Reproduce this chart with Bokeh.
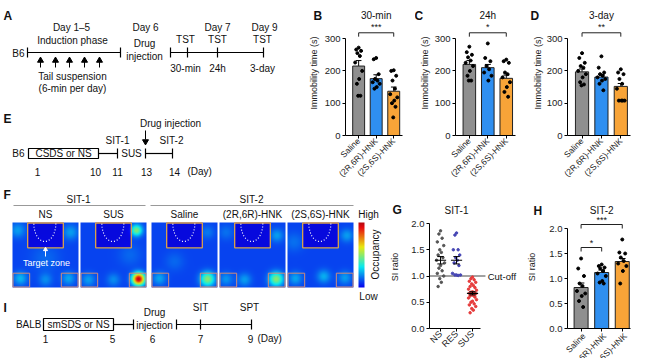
import math
import numpy as np
from bokeh.plotting import figure
from bokeh.layouts import row, column
from bokeh.models import Range1d, FixedTicker, ColumnDataSource, NumeralTickFormatter
from bokeh.embed import file_html
from bokeh.resources import INLINE
from bokeh.core.properties import value

FONT = "Liberation Sans"

# ---------------- data ----------------
groups = ["Saline", "(2R,6R)-HNK", "(2S,6S)-HNK"]
group_colors = ["#8f8f8f", "#2f8ff0", "#f8a438"]

# B: TST 30-min (immobility, s)
b_mean = [215, 176, 137]
b_sem = [17, 12, 13]
b_saline = [272, 266, 262, 255, 246, 226, 200, 175, 160, 123, 123]
b_rr = [240, 236, 190, 175, 170, 165, 160, 150, 145]
b_ss = [202, 200, 185, 170, 145, 128, 118, 108, 100, 89, 56]
# C: TST 24h
c_mean = [220, 210, 177]
c_sem = [12, 10, 10]
c_saline = [275, 258, 250, 242, 232, 225, 215, 200, 185, 170, 170]
c_rr = [285, 240, 230, 215, 205, 195, 185, 170]
c_ss = [235, 230, 225, 195, 190, 180, 165, 150, 135, 120]
# D: TST 3-day
d_mean = [197, 181, 152]
d_sem = [9, 8, 9]
d_saline = [255, 240, 225, 215, 210, 200, 190, 180, 165, 158, 155]
d_rr = [245, 210, 195, 190, 185, 180, 175, 170, 160, 140]
d_ss = [205, 195, 190, 175, 160, 145, 108, 108, 108, 108]
immo_ticks = [0, 100, 200, 300]

# G: SIT-1 SI ratio
g_groups = ["NS", "RES", "SUS"]
g_colors = ["#555555", "#4646b4", "#e63c3c"]
g_ns = [1.86, 1.8, 1.72, 1.65, 1.58, 1.5, 1.45, 1.4, 1.35, 1.3, 1.25, 1.2, 1.15, 1.1, 1.05, 1.0, 0.95, 0.88, 0.8]
g_res = [1.82, 1.78, 1.5, 1.5, 1.4, 1.35, 1.3, 1.25, 1.2, 1.05, 1.02, 1.02, 1.02, 1.01]
g_sus = [0.98, 0.95, 0.93, 0.9, 0.88, 0.85, 0.82, 0.8, 0.78, 0.75, 0.73, 0.7, 0.69, 0.68, 0.67,
         0.66, 0.65, 0.63, 0.62, 0.6, 0.58, 0.55, 0.52, 0.5, 0.47, 0.45, 0.42, 0.38, 0.35, 0.3]
g_mean = [1.3, 1.3, 0.67]
g_sem = [0.07, 0.07, 0.03]
cutoff = 1.0
si_ticks = [0.0, 0.5, 1.0, 1.5, 2.0]

# H: SIT-2 SI ratio
h_mean = [0.82, 1.12, 1.34]
h_sem = [0.09, 0.05, 0.06]
h_saline = [1.4, 1.2, 1.05, 0.9, 0.85, 0.75, 0.7, 0.65, 0.55, 0.43]
h_rr = [1.28, 1.25, 1.22, 1.2, 1.15, 1.1, 1.05, 0.95, 0.92, 0.9]
h_ss = [1.78, 1.52, 1.5, 1.42, 1.35, 1.3, 1.25, 1.15, 0.9]

# F: occupancy hot spots per arena (u, v, amplitude, radius), u/v relative to arena
arena_titles = ["NS", "SUS", "Saline", "(2R,6R)-HNK", "(2S,6S)-HNK"]
ns_spots = [(0.08, 0.12, 0.10, 0.08), (0.88, 0.15, 0.10, 0.08), (0.5, 0.55, 0.04, 0.15),
            (0.12, 0.86, 0.13, 0.07), (0.5, 0.88, 0.08, 0.07), (0.85, 0.86, 0.11, 0.07)]
sus_spots = [(0.85, 0.12, 0.32, 0.06), (0.88, 0.87, 0.74, 0.065), (0.12, 0.88, 0.10, 0.07),
             (0.5, 0.88, 0.08, 0.07), (0.75, 0.5, 0.04, 0.12)]
saline_spots = [(0.85, 0.87, 0.33, 0.075), (0.12, 0.86, 0.11, 0.07), (0.35, 0.6, 0.04, 0.1),
                (0.85, 0.15, 0.06, 0.07)]
rr_spots = [(0.86, 0.87, 0.33, 0.075), (0.1, 0.87, 0.09, 0.07), (0.38, 0.88, 0.10, 0.07),
            (0.87, 0.2, 0.10, 0.07), (0.1, 0.15, 0.05, 0.08)]
ss_spots = [(0.12, 0.86, 0.11, 0.07), (0.55, 0.83, 0.12, 0.07), (0.87, 0.85, 0.10, 0.07),
            (0.9, 0.2, 0.10, 0.07), (0.1, 0.3, 0.05, 0.1)]
all_spots = [ns_spots, sus_spots, saline_spots, rr_spots, ss_spots]

dot_offsets = [0.0, -0.14, 0.14, -0.07, 0.07, -0.2, 0.2, 0.03, -0.1, 0.1, -0.03]

# ---------------- layout constants (page pixels) ----------------
TOP_H, TOP_T, TOP_B = 188, 10, 53      # row 1: frames span y 10..135
BOT_H, BOT_T, BOT_B = 170, 17, 30      # row 2: frames span y 205..328

# ---------------- helpers ----------------
def style_axis(ax, size="9.5px"):
    ax.axis_line_color = "black"
    ax.axis_line_width = 1
    ax.major_tick_line_color = "black"
    ax.major_tick_in = 0
    ax.major_tick_out = 3
    ax.minor_tick_line_color = None
    ax.major_label_text_font = FONT
    ax.major_label_text_font_size = size
    ax.major_label_text_color = "#222222"
    ax.major_label_standoff = 2
    ax.axis_label_text_font = FONT
    ax.axis_label_text_font_size = "9px"
    ax.axis_label_text_font_style = "normal"
    ax.axis_label_text_color = "#222222"


def gtext(p, x, y, s, align="center", size="10px", bold=False, color="#111111", angle=0.0,
          level="overlay", dx=0):
    p.text(x=[x], y=[y], text=[s], text_align=align, text_baseline="middle",
           text_font=value(FONT), text_font_size=value(size), x_offset=dx,
           text_font_style="bold" if bold else "normal", text_color=color, angle=angle,
           level=level)


def panel_fig(width, height, borders, xr, yr):
    bl, br, bt, bb = borders
    p = figure(width=width, height=height, x_range=Range1d(*xr), y_range=Range1d(*yr),
               min_border_left=bl, min_border_right=br, min_border_top=bt, min_border_bottom=bb,
               title=None, toolbar_location=None, output_backend="svg")
    p.outline_line_color = None
    p.grid.visible = False
    p.background_fill_color = "white"
    p.border_fill_color = "white"
    return p


def finish_axes(p, ybounds, yticks, ylabel, standoff, cats, fmt=None, xbounds=None,
                xlabels=True, xsize="8.5px"):
    style_axis(p.xaxis[0], size=xsize)
    style_axis(p.yaxis[0])
    p.xaxis.ticker = FixedTicker(ticks=list(range(len(cats))))
    if xlabels:
        p.xaxis.major_label_overrides = {i: c for i, c in enumerate(cats)}
        p.xaxis.major_label_orientation = math.pi / 4
        p.xaxis.major_label_standoff = 1
    else:
        p.xaxis.major_label_text_color = None
    if xbounds is not None:
        p.xaxis.bounds = xbounds
    p.yaxis.ticker = FixedTicker(ticks=yticks)
    p.yaxis.bounds = ybounds
    p.yaxis.axis_label = ylabel
    p.yaxis.axis_label_standoff = standoff
    if fmt:
        p.yaxis.formatter = NumeralTickFormatter(format=fmt)


def bar_panel(width, height, borders, xr, yr, ybounds, yticks, means, sems, pts, title, title_y,
              letter, letter_dx, brackets, ylabel, standoff, fmt=None, cap=0.16, xlabels=True):
    p = panel_fig(width, height, borders, xr, yr)
    xs = [0, 1, 2]
    tops = [m + s for m, s in zip(means, sems)]
    p.segment(x0=xs, y0=means, x1=xs, y1=tops, line_color="black", line_width=1)
    p.segment(x0=[x - cap for x in xs], y0=tops, x1=[x + cap for x in xs], y1=tops,
              line_color="black", line_width=1)
    p.vbar(x=xs, top=means, bottom=0, width=0.68, fill_color=group_colors, line_color="#222222",
           line_width=1)
    for i, vals in enumerate(pts):
        px = [i + dot_offsets[k % len(dot_offsets)] for k in range(len(vals))]
        p.scatter(px, vals, size=3, color="black")
    for (a, b, y, drop, stars, sy) in brackets:
        p.multi_line(xs=[[a, a, b, b]], ys=[[y - drop, y, y, y - drop]], line_color="#222222",
                     line_width=1)
        gtext(p, (a + b) / 2, sy, stars, size="9px")
    gtext(p, 1, title_y, title, size="10px")
    finish_axes(p, ybounds, yticks, ylabel, standoff, groups, fmt, xlabels=xlabels)
    gtext(p, xr[0], title_y, letter, align="left", size="12px", bold=True, dx=letter_dx)
    return p


def canvas(w, h, top, bottom, page_y0):
    # frame spans page y (page_y0+top) .. (page_y0+h-bottom); data coordinates = page pixels
    p = figure(width=w, height=h, x_range=Range1d(0, w),
               y_range=Range1d(page_y0 + h - bottom, page_y0 + top),
               x_axis_type=None, y_axis_type=None, min_border_left=0, min_border_right=0,
               min_border_top=top, min_border_bottom=bottom,
               title=None, toolbar_location=None, output_backend="svg")
    p.outline_line_color = None
    p.background_fill_color = "white"
    p.border_fill_color = "white"
    return p


def jet_rgba(val):
    v = np.clip(val, 0, 1)
    r = np.clip(1.5 - np.abs(4 * v - 3), 0, 1)
    g = np.clip(1.5 - np.abs(4 * v - 2), 0, 1)
    b = np.clip(1.5 - np.abs(4 * v - 1), 0, 1)
    r = 0.88 * r + 0.12 * 0.25
    g = 0.88 * g + 0.12 * 0.3
    b = 0.88 * b + 0.12 * 0.5
    img = np.empty(val.shape + (4,), dtype=np.uint8)
    img[..., 0] = (r * 255).astype(np.uint8)
    img[..., 1] = (g * 255).astype(np.uint8)
    img[..., 2] = (b * 255).astype(np.uint8)
    img[..., 3] = 255
    return img.view(np.uint32).reshape(val.shape)


LW = dict(line_color="black", line_width=1.2, level="overlay")

# ---------------- top-left: timelines A and E ----------------
ta = canvas(305, TOP_H, TOP_T, TOP_B, 0)
# A
ta.segment(x0=[27, 170], y0=[52, 52], x1=[120, 263], y1=[52, 52], **LW)
a_ticks = [27, 120, 170, 187, 217, 263]
ta.segment(x0=a_ticks, y0=[47] * 6, x1=a_ticks, y1=[57] * 6, **LW)
a_arrows = [40, 55, 69, 84, 99]
ta.segment(x0=a_arrows, y0=[67] * 5, x1=a_arrows, y1=[61] * 5, line_color="black", line_width=1, level="overlay")
ta.scatter(a_arrows, [60] * 5, marker="triangle", size=6, color="black", level="overlay")
gtext(ta, 3, 15, "A", align="left", size="12px", bold=True)
gtext(ta, 24, 53, "B6", align="right")
gtext(ta, 71, 27, "Day 1\u20135")
gtext(ta, 72, 40, "Induction phase")
gtext(ta, 72, 76, "Tail suspension")
gtext(ta, 72, 88, "(6-min per day)")
gtext(ta, 145, 27, "Day 6")
gtext(ta, 144, 43, "Drug")
gtext(ta, 144, 56, "injection")
for tx, lab in zip([185, 217, 262], ["30-min", "24h", "3-day"]):
    gtext(ta, tx, 39, "TST")
    gtext(ta, tx, 68, lab)
gtext(ta, 217, 27, "Day 7")
gtext(ta, 264, 27, "Day 9")
# E
gtext(ta, 3, 118, "E", align="left", size="12px", bold=True)
gtext(ta, 24, 153, "B6", align="right")
ta.quad(left=[28], right=[98], top=[148], bottom=[158], fill_color=None, **LW)
gtext(ta, 63, 153, "CSDS or NS")
ta.segment(x0=[98, 145], y0=[153, 153], x1=[117, 172], y1=[153, 153], **LW)
e_ticks = [117, 145, 172]
ta.segment(x0=e_ticks, y0=[148] * 3, x1=e_ticks, y1=[158] * 3, **LW)
gtext(ta, 131, 153, "SUS")
gtext(ta, 117, 140, "SIT-1")
gtext(ta, 171, 140, "SIT-2")
gtext(ta, 170, 123, "Drug injection")
ta.segment(x0=[145], y0=[130], x1=[145], y1=[139], line_color="black", line_width=1, level="overlay")
ta.scatter([145], [141], marker="inverted_triangle", size=6, color="black", level="overlay")
for dx, dl in zip([37, 95, 117, 146, 174], ["1", "10", "11", "13", "14"]):
    gtext(ta, dx, 171, dl)
gtext(ta, 187, 171, "(Day)", align="left")

# ---------------- B, C, D ----------------
immo_label = "Immobility time (s)"
pB = bar_panel(110, TOP_H, (36, 13, TOP_T, TOP_B), (-0.75, 2.5), (0, 387), (0, 300), immo_ticks,
               b_mean, b_sem, [b_saline, b_rr, b_ss], "30-min", 371, "B", -32,
               [(0, 2, 318, 12, "***", 336)], immo_label, 3)
pC = bar_panel(112, TOP_H, (40, 12, TOP_T, TOP_B), (-0.75, 2.5), (0, 387), (0, 300), immo_ticks,
               c_mean, c_sem, [c_saline, c_rr, c_ss], "24h", 371, "C", -41,
               [(0, 2, 318, 12, "*", 336)], immo_label, 2)
pD = bar_panel(121, TOP_H, (40, 18, TOP_T, TOP_B), (-0.75, 2.5), (0, 387), (0, 300), immo_ticks,
               d_mean, d_sem, [d_saline, d_rr, d_ss], "3-day", 371, "D", -37,
               [(0, 2, 318, 12, "**", 336)], immo_label, 1)

# ---------------- bottom-left: heatmaps F and timeline I ----------------
fi = canvas(382, BOT_H, BOT_T, BOT_B, TOP_H)
gtext(fi, 3, 194, "F", align="left", size="12px", bold=True)
gtext(fi, 78, 199, "SIT-1")
gtext(fi, 251, 199, "SIT-2")
fi.segment(x0=[13, 150], y0=[205, 205], x1=[145, 353], y1=[205, 205], line_color="#999999",
           line_width=1, level="overlay")
arena_x = [12, 80, 151, 219, 287]
AW, AH, AY = 66, 65, 222
title_x = [45, 113, 184, 252, 320]
uu = (np.arange(AW) + 0.5) / AW
vv = (np.arange(AH) + 0.5) / AH
U, V = np.meshgrid(uu, vv)
for k, (x0, spots) in enumerate(zip(arena_x, all_spots)):
    val = np.full(U.shape, 0.19)
    for (su, sv, amp, rad) in spots:
        val = val + amp * np.exp(-((U - su) ** 2 + (V - sv) ** 2) / (2 * rad ** 2))
    inbox = (U > 0.23) & (U < 0.77) & (V < 0.39)
    val[inbox] = val[inbox] * 0.55
    fi.image_rgba(image=[jet_rgba(val)], x=x0, y=AY, dw=AW, dh=AH)
    gtext(fi, title_x[k], 214, arena_titles[k])
    # target zone
    fi.quad(left=[x0 + 0.23 * AW], right=[x0 + 0.77 * AW], top=[AY + 0.5], bottom=[AY + 0.39 * AH],
            fill_color=None, line_color="#d9a04a", line_width=1.3)
    # corner zones
    fi.quad(left=[x0 + 0.5, x0 + 0.74 * AW], right=[x0 + 0.26 * AW, x0 + AW - 0.5],
            top=[AY + 0.78 * AH] * 2, bottom=[AY + AH - 0.5] * 2,
            fill_color=None, line_color="#cf8c78", line_width=1)
    t = np.linspace(0, math.pi, 40)
    fi.line(x0 + 0.49 * AW + 11 * np.cos(t), AY + 1 + 18 * np.sin(t), line_color="white",
            line_dash="1 2", line_width=1.2)
gtext(fi, 46, 262, "Target zone", size="9px", color="white")
fi.segment(x0=[45], y0=[256], x1=[45], y1=[250], line_color="white", line_width=1)
fi.scatter([45], [249], marker="triangle", size=4, color="white")
# colour bar
cb_vals = np.linspace(0.93, 0.12, 65).reshape(65, 1) * np.ones((1, 6))
fi.image_rgba(image=[jet_rgba(cb_vals)], x=358, y=AY, dw=6, dh=65)
gtext(fi, 368, 214, "High")
gtext(fi, 368, 296, "Low")
gtext(fi, 375, 254, "Occupancy", angle=math.pi / 2)
# I timeline
gtext(fi, 3, 307, "I", align="left", size="12px", bold=True)
gtext(fi, 41, 324, "BALB", align="right")
fi.quad(left=[43], right=[113], top=[318], bottom=[330], fill_color=None, **LW)
gtext(fi, 78, 324, "smSDS or NS")
fi.segment(x0=[113, 176], y0=[324, 324], x1=[133, 251], y1=[324, 324], **LW)
i_ticks = [133, 176, 200, 251]
fi.segment(x0=i_ticks, y0=[319] * 4, x1=i_ticks, y1=[329] * 4, **LW)
gtext(fi, 154, 312, "Drug")
gtext(fi, 154, 325, "injection")
gtext(fi, 200, 307, "SIT")
gtext(fi, 249, 307, "SPT")
for dx, dl in zip([45, 112, 152, 200, 250], ["1", "5", "6", "7", "9"]):
    gtext(fi, dx, 338, dl)
gtext(fi, 257, 338, "(Day)", align="left")

# ---------------- G ----------------
gxr = (-0.69, 5.0)
pG = panel_fig(140, BOT_H, (47, 2, BOT_T, BOT_B), gxr, (0, 2.343))
pG.line([gxr[0], 2.81], [cutoff, cutoff], line_color="#444444", line_width=1)
gtext(pG, 2.95, cutoff, "Cut-off", align="left", size="9.5px")
g_spread = [0.0, -0.1, 0.1, -0.2, 0.2, -0.05, 0.05, -0.15, 0.15, -0.25, 0.25]
for i, vals in enumerate([g_ns, g_res, g_sus]):
    px = [i + g_spread[k % len(g_spread)] for k in range(len(vals))]
    pG.scatter(px, vals, size=2.5, color=g_colors[i])
gx = [0, 1, 2]
pG.segment(x0=[x - 0.35 for x in gx], y0=g_mean, x1=[x + 0.35 for x in gx], y1=g_mean, line_color="black", line_width=1.2)
lo = [m - s for m, s in zip(g_mean, g_sem)]
hi = [m + s for m, s in zip(g_mean, g_sem)]
pG.segment(x0=gx, y0=lo, x1=gx, y1=hi, line_color="black", line_width=1)
pG.segment(x0=[x - 0.2 for x in gx] * 2, y0=lo + hi, x1=[x + 0.2 for x in gx] * 2, y1=lo + hi,
           line_color="black", line_width=1)
gtext(pG, 1, 2.25, "SIT-1")
finish_axes(pG, (0, 2), si_ticks, "SI ratio", 8, g_groups, fmt="0.0", xbounds=(gxr[0], 2.5),
            xsize="9px")
gtext(pG, gxr[0], 2.25, "G", align="left", size="12px", bold=True, dx=-37)

# ---------------- H ----------------
pH = bar_panel(126, BOT_H, (45, 18, BOT_T, BOT_B), (-0.66, 2.4), (0, 2.46), (0, 2), si_ticks,
               h_mean, h_sem, [h_saline, h_rr, h_ss], "SIT-2", 2.36, "H", -34,
               [(0, 2, 2.08, 0.08, "***", 2.17), (0, 1, 1.62, 0.08, "*", 1.71)],
               "SI ratio", 9, fmt="0.0", xlabels=False)
h_src = ColumnDataSource(dict(x=[0, 1, 2], y=[0, 0, 0], t=groups))
pH.text(x="x", y="y", text="t", source=h_src, angle=math.pi / 4, text_align="right",
        text_baseline="middle", x_offset=3, y_offset=6, text_font=value(FONT),
        text_font_size=value("8.5px"), text_color="#222222", level="overlay")

layout = column(row(ta, pB, pC, pD), row(fi, pG, pH))
open("out.html", "w").write(file_html(layout, INLINE))
